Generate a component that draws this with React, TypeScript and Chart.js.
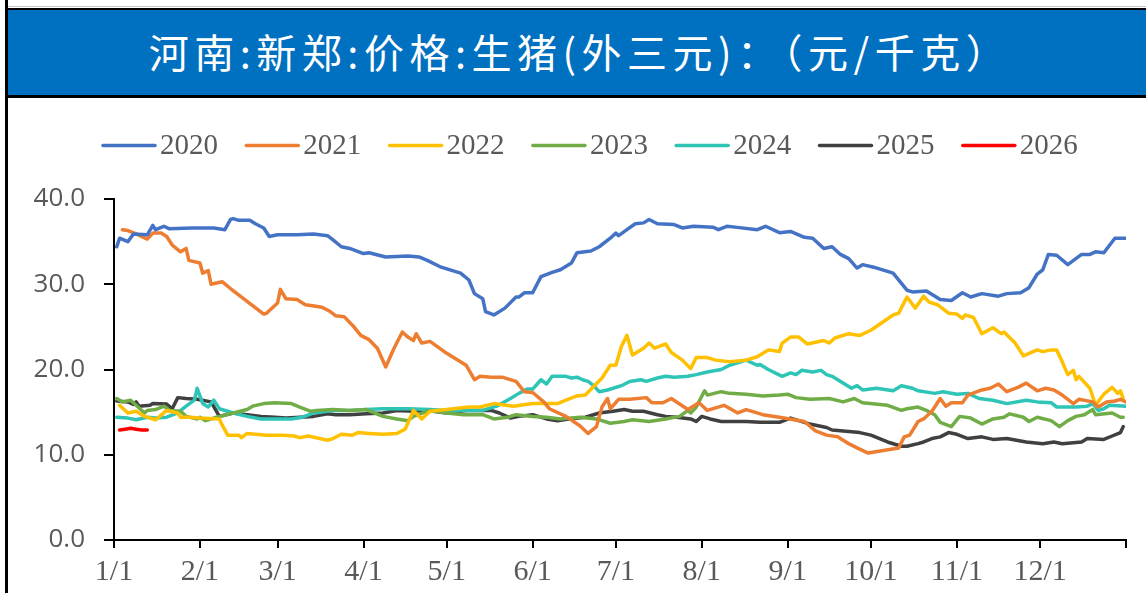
import React, { useEffect, useRef } from "react";
import { Chart, registerables } from "chart.js";

Chart.register(...registerables);

const TITLE = "河南:新郑:价格:生猪(外三元)：（元/千克）";

const tickDays = [0, 31, 59, 90, 120, 151, 181, 212, 243, 273, 304, 334, 365];
const tickLabels = ["1/1", "2/1", "3/1", "4/1", "5/1", "6/1", "7/1", "8/1", "9/1", "10/1", "11/1", "12/1", ""];
const yTicks = [0, 10, 20, 30, 40];

const seriesNames = ["2020", "2021", "2022", "2023", "2024", "2025", "2026"];
const seriesColors = ["#4472C4", "#ED7D31", "#FFC000", "#70AD47", "#2EC4B6", "#404040", "#FF0000"];

const days2020 = [1,2,5,7,12,14,15,18,20,28,36,40,42,43,45,49,51,54,56,59,66,72,77,79,82,85,90,92,98,106,110,113,118,125,128,130,133,134,137,141,145,146,148,151,154,158,161,165,167,172,175,179,181,182,185,188,191,193,196,202,205,209,216,218,221,224,232,235,240,244,249,252,256,259,262,265,268,270,274,281,286,288,293,298,302,306,309,313,319,322,327,330,333,335,337,340,344,349,352,354,357,361,365];
const vals2020 = [34.4,35.4,35.0,35.9,35.8,36.9,36.4,36.8,36.5,36.6,36.6,36.4,37.6,37.7,37.5,37.5,37.1,36.6,35.6,35.8,35.8,35.9,35.7,35.2,34.4,34.2,33.6,33.7,33.2,33.3,33.2,32.8,32.0,31.3,30.5,28.9,28.3,26.8,26.4,27.2,28.5,28.5,29.0,29.0,30.9,31.4,31.7,32.5,33.7,33.9,34.4,35.4,36.0,35.7,36.4,37.1,37.2,37.6,37.1,37.0,36.6,36.8,36.7,36.4,36.8,36.7,36.4,36.8,36.05,36.2,35.5,35.4,34.2,34.4,33.5,33.0,31.9,32.3,32.0,31.3,29.3,29.1,29.2,28.2,28.1,29.0,28.5,28.9,28.6,28.9,29.0,29.6,31.2,31.7,33.5,33.4,32.3,33.5,33.5,33.8,33.7,35.4,35.4];

const days2021 = [3,5,8,12,14,17,19,21,24,26,27,31,32,34,35,39,42,54,55,59,60,62,66,69,71,75,78,80,83,86,89,92,95,98,101,104,106,108,109,111,114,120,127,130,132,136,140,145,148,151,155,157,163,168,171,174,176,178,179,182,186,192,194,198,201,207,211,214,220,225,228,234,240,249,253,257,261,265,268,272,283,285,287,290,292,295,298,300,302,306,308,313,316,319,322,326,329,333,336,339,342,346,348,353,355,358,361,363,365];
const vals2021 = [36.4,36.3,35.9,35.3,36.0,36.0,35.6,34.6,33.8,34.2,32.8,32.5,31.3,31.6,30.0,30.3,29.5,26.5,26.6,27.8,29.4,28.3,28.2,27.6,27.5,27.3,26.8,26.3,26.2,25.2,24.0,23.5,22.5,20.3,22.5,24.4,23.8,23.4,24.2,23.1,23.3,21.9,20.5,18.8,19.2,19.1,19.1,18.6,17.4,17.3,16.2,15.4,14.5,13.4,12.5,13.3,15.6,16.6,15.4,16.5,16.5,16.7,16.1,16.1,16.6,15.3,16.1,15.2,15.8,14.9,15.3,14.7,14.4,13.9,12.8,12.3,12.1,11.3,10.8,10.2,10.8,12.1,12.3,13.9,14.2,15.1,16.6,15.7,16.1,16.1,17.0,17.6,17.8,18.3,17.4,17.9,18.4,17.5,17.8,17.6,17.0,16.0,16.5,16.2,15.6,16.2,16.3,16.5,16.2];

const days2022 = [2,5,8,11,15,19,23,24,27,31,38,39,41,45,46,48,55,61,65,67,70,73,77,79,82,86,88,92,97,102,105,108,111,114,120,128,132,137,144,151,160,163,167,170,173,176,179,181,183,185,187,191,193,195,199,201,205,208,210,214,217,222,228,232,236,240,241,244,247,250,256,258,260,265,269,273,281,283,286,289,292,294,297,301,304,306,307,310,313,317,320,321,325,328,333,335,338,340,342,344,346,347,348,352,354,357,360,362,363,364];
const vals2022 = [15.8,14.9,15.1,14.5,14.1,15.2,14.9,14.4,14.4,14.3,14.2,13.5,12.3,12.3,12.0,12.5,12.3,12.3,12.2,12.0,12.2,12.0,11.7,11.9,12.4,12.3,12.6,12.5,12.4,12.5,13.0,15.2,14.2,15.1,15.3,15.6,15.6,16.0,15.7,16.0,16.0,16.4,16.9,17.0,18.0,19.0,20.5,20.5,22.7,24.0,21.7,22.5,23.1,22.5,23.0,22.0,21.1,20.1,21.4,21.4,21.1,20.9,21.1,21.5,22.3,22.1,23.1,23.8,23.8,23.0,23.4,23.1,23.7,24.2,24.0,24.6,26.4,26.6,28.5,27.2,28.6,27.9,27.6,26.6,26.5,26.0,26.4,26.1,24.2,24.9,24.2,24.4,23.1,21.6,22.3,22.1,22.3,22.3,20.9,19.4,19.9,18.8,19.2,17.8,15.8,17.1,17.9,17.2,17.5,16.6];

const days2023 = [1,3,6,8,11,12,15,18,20,24,26,30,31,33,37,43,48,50,54,58,64,67,71,73,79,85,91,97,102,106,108,114,120,126,133,137,142,145,151,156,161,168,174,179,184,187,193,199,204,207,208,210,213,214,219,222,228,234,240,243,246,251,258,263,267,270,279,284,286,290,293,296,298,302,305,309,313,317,321,323,328,330,333,338,341,344,347,350,353,354,360,363,364];
const vals2023 = [16.6,16.2,16.4,15.8,14.9,15.2,15.3,15.7,15.2,15.1,14.5,14.2,14.4,14.0,14.4,14.9,15.3,15.7,16.0,16.1,16.0,15.6,15.1,15.2,15.3,15.2,15.3,14.5,14.2,14.0,14.5,15.2,14.9,14.7,14.7,14.2,14.4,14.7,14.5,14.4,14.2,14.4,14.2,13.7,13.9,14.1,13.9,14.2,14.5,15.2,14.9,15.6,17.5,17.0,17.4,17.2,17.1,16.9,17.0,17.1,16.7,16.5,16.6,16.2,16.6,16.1,15.8,15.2,15.4,15.6,15.2,14.7,13.8,13.3,14.5,14.3,13.6,14.2,14.4,14.8,14.4,13.9,14.4,14.0,13.3,14.0,14.5,14.7,15.3,14.7,14.9,14.4,14.4];

const days2024 = [1,5,8,12,15,19,23,26,29,30,32,34,36,38,43,48,53,58,64,68,72,79,85,91,97,106,114,120,127,133,138,143,146,149,151,154,156,158,163,165,167,169,171,173,175,178,183,186,190,192,196,199,202,207,210,214,219,222,228,232,233,236,241,244,246,248,252,255,257,259,266,268,270,275,281,284,288,290,296,299,304,308,312,317,322,329,333,338,340,347,351,353,355,357,359,365];
const vals2024 = [14.4,14.3,14.1,14.4,14.3,14.4,14.9,15.7,16.4,17.8,16.0,15.6,16.4,15.4,14.9,14.5,14.2,14.2,14.2,14.4,14.9,15.2,15.2,15.3,15.4,15.4,15.3,15.2,15.2,15.2,15.7,16.6,17.2,17.7,17.7,18.8,18.3,19.2,19.2,19.0,19.1,18.8,18.6,18.1,17.4,17.6,18.1,18.6,18.8,18.6,19.0,19.2,19.1,19.2,19.4,19.7,20.0,20.5,21.1,20.5,20.6,20.0,19.2,19.6,19.4,19.9,19.7,19.9,19.4,19.2,17.8,18.1,17.6,17.8,17.5,18.1,17.8,17.5,17.2,17.4,17.1,17.2,16.6,16.4,16.0,16.4,16.2,16.1,15.6,15.6,15.7,16.0,15.2,15.4,15.8,15.7];

const days2025 = [1,5,7,8,9,13,14,19,21,23,26,30,35,38,43,48,53,58,62,67,72,77,80,85,91,97,102,108,113,120,127,136,139,143,146,151,156,160,164,170,175,180,184,187,191,196,199,203,208,210,212,215,219,228,233,240,244,247,251,257,259,269,273,279,284,286,290,292,295,298,301,304,308,313,317,322,329,335,339,342,349,351,357,360,363,364];
const vals2025 = [16.3,16.2,15.9,16.2,15.7,15.8,16.0,15.95,15.4,16.7,16.6,16.5,16.2,14.5,14.9,14.7,14.5,14.4,14.3,14.4,14.5,14.8,14.7,14.7,14.8,14.9,15.2,15.1,15.2,14.9,15.2,15.2,14.9,14.3,14.5,14.7,14.2,14.0,14.2,14.4,14.9,15.1,15.3,15.1,15.1,14.7,14.5,14.4,14.2,13.9,14.5,14.2,13.9,13.9,13.8,13.8,14.3,14.0,13.6,13.2,12.9,12.6,12.3,11.5,11.0,11.0,11.3,11.5,11.9,12.1,12.6,12.4,11.9,12.1,11.8,11.9,11.5,11.3,11.5,11.3,11.5,11.9,11.8,12.2,12.6,13.3];

const days2026 = [2,4,6,8,10,12];
const vals2026 = [12.9,13.0,13.1,13.0,12.9,12.9];

const seriesDays = [days2020, days2021, days2022, days2023, days2024, days2025, days2026];
const seriesVals = [vals2020, vals2021, vals2022, vals2023, vals2024, vals2025, vals2026];

const legendPlugin = {
  id: "seriesLegend",
  afterDraw(chart: any) {
    const ctx = chart.ctx as CanvasRenderingContext2D;
    const startX = 94;
    const step = 143.3;
    const y = 47.5;
    ctx.save();
    ctx.font = '29px "Liberation Serif"';
    ctx.textBaseline = "middle";
    ctx.textAlign = "left";
    chart.data.datasets.forEach((ds: any, i: number) => {
      const x0 = startX + i * step;
      ctx.strokeStyle = ds.borderColor;
      ctx.lineWidth = 3.5;
      ctx.lineCap = "round";
      ctx.beginPath();
      ctx.moveTo(x0 + 1, y);
      ctx.lineTo(x0 + 53, y);
      ctx.stroke();
      ctx.fillStyle = "#595959";
      ctx.fillText(ds.label, x0 + 58, y + 1);
    });
    ctx.restore();
  },
};

export default function App() {
  const ref = useRef<HTMLCanvasElement | null>(null);

  useEffect(() => {
    if (!ref.current) return;
    const datasets = seriesNames.map((name, i) => ({
      label: name,
      data: seriesDays[i].map((d, j) => ({ x: d, y: seriesVals[i][j] })),
      borderColor: seriesColors[i],
      backgroundColor: seriesColors[i],
      borderWidth: 3.5,
      pointRadius: 0,
      tension: 0,
      fill: false,
      borderJoinStyle: "round" as const,
      borderCapStyle: "round" as const,
    }));
    const chart = new Chart(ref.current, {
      type: "line",
      data: { datasets },
      plugins: [legendPlugin],
      options: {
        animation: false,
        responsive: false,
        devicePixelRatio: 1,
        layout: { padding: { top: 101, right: 20, left: 0, bottom: 0 } },
        plugins: { legend: { display: false }, tooltip: { enabled: false } },
        scales: {
          x: {
            type: "linear",
            min: 0,
            max: 365,
            afterFit: (s: any) => { s.height = 53; },
            afterBuildTicks: (s: any) => { s.ticks = tickDays.map((v) => ({ value: v })); },
            ticks: {
              autoSkip: false,
              maxRotation: 0,
              padding: 6,
              color: "#595959",
              font: { family: '"Liberation Serif"', size: 30 },
              callback: (v: any) => { const k = tickDays.indexOf(Number(v)); return k >= 0 ? tickLabels[k] : ""; },
            },
            grid: { drawOnChartArea: false, drawTicks: true, tickLength: 8, color: "#000", lineWidth: 2 },
            border: { display: true, color: "#000", width: 2 },
          },
          y: {
            min: 0,
            max: 40,
            afterFit: (s: any) => { s.width = 106; },
            afterBuildTicks: (s: any) => { s.ticks = yTicks.map((v) => ({ value: v })); },
            ticks: {
              padding: 19,
              color: "#595959",
              font: { family: '"Open Sans"', size: 26 },
              callback: (v: any) => Number(v).toFixed(1),
            },
            grid: { drawOnChartArea: false, drawTicks: true, tickLength: 10, color: "#000", lineWidth: 2 },
            border: { display: true, color: "#000", width: 2 },
          },
        },
      },
    });
    return () => chart.destroy();
  }, []);

  return (
    <div style={{ position: "fixed", left: 0, top: 0, width: 1146, height: 593, background: "#fff", overflow: "hidden" }}>
      <div style={{ position: "absolute", left: 8, top: 6, right: 0, height: 1, background: "#c8c8c8" }} />
      <div style={{ position: "absolute", left: 5, top: 8, right: 0, height: 2, background: "#000" }} />
      <div
        style={{
          position: "absolute", left: 8, top: 10, right: 0, height: 85, background: "#0070C0",
          color: "#fff", display: "flex", alignItems: "center", justifyContent: "center",
          fontFamily: '"Noto Sans CJK SC", sans-serif', fontSize: 40, letterSpacing: 5.5, whiteSpace: "nowrap",
        }}
      >
        <span style={{ marginLeft: 6, marginTop: -4 }}>{TITLE}</span>
      </div>
      <div style={{ position: "absolute", left: 5, top: 95, right: 0, height: 3, background: "#000" }} />
      <div style={{ position: "absolute", left: 5, top: 0, width: 3, height: 593, background: "#000" }} />
      <canvas ref={ref} width={1138} height={495} style={{ position: "absolute", left: 8, top: 98, width: 1138, height: 495 }} />
    </div>
  );
}
